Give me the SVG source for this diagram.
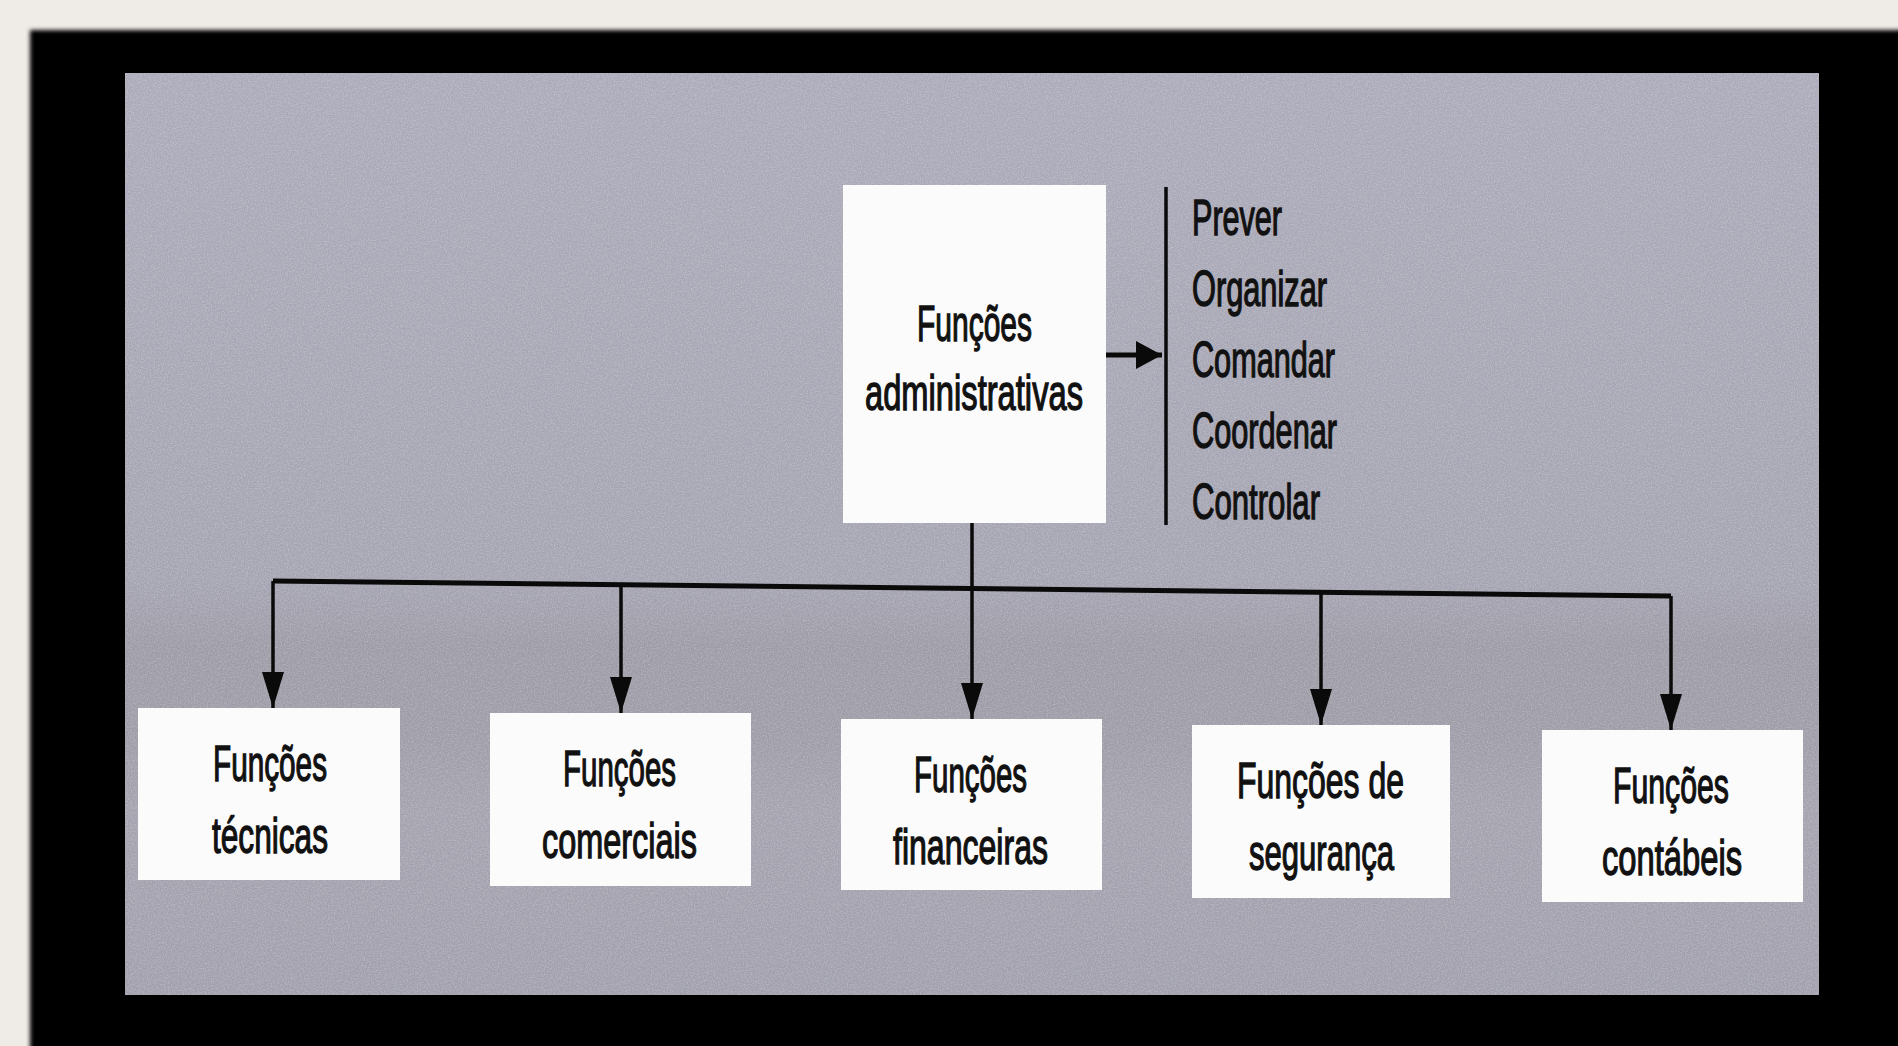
<svg xmlns="http://www.w3.org/2000/svg" width="1898" height="1046" viewBox="0 0 1898 1046">
<style>
.box{fill:#fbfbfb}
.t{font-family:"Liberation Sans",Arial,sans-serif;font-size:50px;fill:#111;stroke:#111;stroke-width:1.4px}
.wire{stroke:#0a0a0a;fill:none;stroke-width:3.5}
.bus{stroke:#0a0a0a;fill:none;stroke-width:5}
</style>
<defs>
<linearGradient id="pg" x1="0" y1="0" x2="0" y2="1">
<stop offset="0" stop-color="#abaab9"/>
<stop offset="0.55" stop-color="#a4a3b1"/>
<stop offset="0.62" stop-color="#9c9ba6"/>
<stop offset="0.72" stop-color="#9d9ca7"/>
<stop offset="0.8" stop-color="#a3a2ae"/>
<stop offset="1" stop-color="#a09fac"/>
</linearGradient>
<filter id="noise" x="0" y="0" width="100%" height="100%">
<feTurbulence type="fractalNoise" baseFrequency="0.7" numOctaves="2" seed="5" result="n"/>
<feColorMatrix in="n" type="matrix" values="0 0 0 0 1  0 0 0 0 1  0 0 0 0 1  0.7 0 0 0 -0.25"/>
</filter>
<filter id="soft" x="-2%" y="-2%" width="104%" height="104%">
<feGaussianBlur stdDeviation="2"/>
</filter>
<marker id="ad" markerUnits="userSpaceOnUse" markerWidth="40" markerHeight="26" refX="36" refY="11" orient="auto">
<path d="M0,0 L36,11 L0,22 z" fill="#0a0a0a"/>
</marker>
<marker id="ar" markerUnits="userSpaceOnUse" markerWidth="30" markerHeight="30" refX="26" refY="14" orient="auto">
<path d="M0,0 L26,14 L0,28 z" fill="#0a0a0a"/>
</marker>
</defs>
<rect x="0" y="0" width="1898" height="1046" fill="#efece8"/>
<rect x="30" y="30" width="1880" height="1030" fill="#000" filter="url(#soft)"/>
<rect x="125" y="73" width="1694" height="922" fill="url(#pg)"/>
<rect x="125" y="73" width="1694" height="922" filter="url(#noise)" opacity="0.7"/>

<g id="connectors">
<path class="bus" d="M273,581 L1671,596"/>
<path class="wire" d="M273,581 L273,708" marker-end="url(#ad)"/>
<path class="wire" d="M621,585 L621,713" marker-end="url(#ad)"/>
<path class="wire" d="M972,523 L972,719" marker-end="url(#ad)"/>
<path class="wire" d="M1321,592 L1321,725" marker-end="url(#ad)"/>
<path class="wire" d="M1671,596 L1671,730" marker-end="url(#ad)"/>
<path class="bus" d="M1106,355 L1162,355" marker-end="url(#ar)"/>
<path class="wire" d="M1166,187 L1166,525" stroke-width="4"/>
</g>

<g id="admin">
<rect class="box" x="843" y="185" width="263" height="338"/>
<text class="t" x="917" y="341" textLength="115" lengthAdjust="spacingAndGlyphs">Funções</text>
<text class="t" x="865" y="410" textLength="218" lengthAdjust="spacingAndGlyphs">administrativas</text>
</g>

<g id="list">
<text class="t" x="1192" y="235" textLength="90" lengthAdjust="spacingAndGlyphs">Prever</text>
<text class="t" x="1192" y="306" textLength="135" lengthAdjust="spacingAndGlyphs">Organizar</text>
<text class="t" x="1192" y="377" textLength="143" lengthAdjust="spacingAndGlyphs">Comandar</text>
<text class="t" x="1192" y="448" textLength="145" lengthAdjust="spacingAndGlyphs">Coordenar</text>
<text class="t" x="1192" y="519" textLength="128" lengthAdjust="spacingAndGlyphs">Controlar</text>
</g>

<g id="tecnicas">
<rect class="box" x="138" y="708" width="262" height="172"/>
<text class="t" x="213" y="781" textLength="114" lengthAdjust="spacingAndGlyphs">Funções</text>
<text class="t" x="212" y="853" textLength="116" lengthAdjust="spacingAndGlyphs">técnicas</text>
</g>

<g id="comerciais">
<rect class="box" x="490" y="713" width="261" height="173"/>
<text class="t" x="563" y="786" textLength="113" lengthAdjust="spacingAndGlyphs">Funções</text>
<text class="t" x="542" y="858" textLength="155" lengthAdjust="spacingAndGlyphs">comerciais</text>
</g>

<g id="financeiras">
<rect class="box" x="841" y="719" width="261" height="171"/>
<text class="t" x="914" y="792" textLength="113" lengthAdjust="spacingAndGlyphs">Funções</text>
<text class="t" x="893" y="864" textLength="155" lengthAdjust="spacingAndGlyphs">financeiras</text>
</g>

<g id="seguranca">
<rect class="box" x="1192" y="725" width="258" height="173"/>
<text class="t" x="1237" y="798" textLength="167" lengthAdjust="spacingAndGlyphs">Funções de</text>
<text class="t" x="1249" y="870" textLength="145" lengthAdjust="spacingAndGlyphs">segurança</text>
</g>

<g id="contabeis">
<rect class="box" x="1542" y="730" width="261" height="172"/>
<text class="t" x="1613" y="803" textLength="116" lengthAdjust="spacingAndGlyphs">Funções</text>
<text class="t" x="1602" y="875" textLength="140" lengthAdjust="spacingAndGlyphs">contábeis</text>
</g>
</svg>
